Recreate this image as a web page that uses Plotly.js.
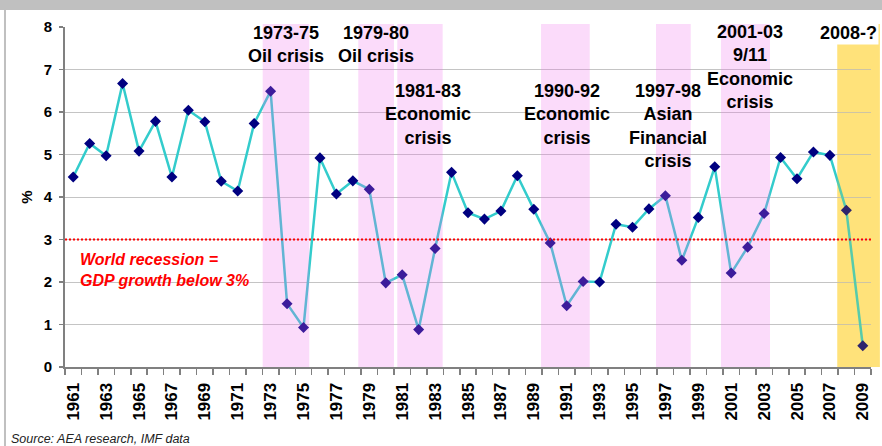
<!DOCTYPE html>
<html>
<head>
<meta charset="utf-8">
<script src="https://cdn.plot.ly/plotly-3.0.1.min.js"></script>
<style>
html,body{margin:0;padding:0;background:#fff;}
#chart{width:882px;height:446px;}
</style>
</head>
<body>
<div id="chart"></div>
<script>
// ---- data ----
var years = [1961,1962,1963,1964,1965,1966,1967,1968,1969,1970,1971,1972,1973,1974,1975,1976,1977,1978,1979,1980,
             1981,1982,1983,1984,1985,1986,1987,1988,1989,1990,1991,1992,1993,1994,1995,1996,1997,1998,1999,2000,
             2001,2002,2003,2004,2005,2006,2007,2008,2009];
var gdpGrowth = [4.47,5.26,4.97,6.67,5.08,5.78,4.47,6.04,5.77,4.37,4.14,5.73,6.49,
                 1.49,0.93,4.92,4.07,4.38,4.18,1.98,2.17,0.88,2.79,
                 4.58,3.63,3.48,3.67,4.50,3.71,2.92,1.44,2.01,2.00,
                 3.36,3.29,3.72,4.03,2.51,3.52,4.71,2.21,2.82,3.61,
                 4.93,4.43,5.06,4.98,3.69,0.50];
var tickYears = [1961,1963,1965,1967,1969,1971,1973,1975,1977,1979,1981,1983,1985,1987,1989,1991,1993,1995,1997,1999,2001,2003,2005,2007,2009];
var recessionThreshold = 3;
// crisis periods (shaded)
var crisisStart = [1972.52, 1978.33, 1980.7, 1989.44, 1996.43, 2000.38];
var crisisEnd   = [1975.35, 1980.5, 1983.46, 1992.4, 1998.54, 2003.36];
var crisisLabels = ['1973-75<br>Oil crisis','1979-80<br>Oil crisis','1981-83<br>Economic<br>crisis',
                    '1990-92<br>Economic<br>crisis','1997-98<br>Asian<br>Financial<br>crisis',
                    '2001-03<br>9/11<br>Economic<br>crisis'];
var labelX = [1973.94, 1979.38, 1982.57, 1991.0, 1997.14, 2002.16];
var labelY = [7.6, 7.6, 5.95, 5.95, 5.66, 7.06];
var currentLabel = '2008-?';
var currentStart = 2007.45;

var FONT = 'Liberation Sans, Arial, sans-serif';

var shapes = [];
// current crisis band: solid part below the series, light tint above it
shapes.push({type:'rect', layer:'below', xref:'paper', yref:'paper',
  x0:(currentStart-1960.5)/49, x1:1.011, y0:0, y1:1.009,
  line:{width:0}, fillcolor:'#ffe890'});
for (var i = 0; i < crisisStart.length; i++) {
  shapes.push({type:'rect', layer:'above', xref:'x', yref:'paper',
    x0:crisisStart[i], x1:crisisEnd[i], y0:0, y1:1.009,
    line:{width:0}, fillcolor:'rgba(240,110,235,0.25)'});
}
shapes.push({type:'rect', layer:'above', xref:'paper', yref:'paper',
  x0:(currentStart-1960.5)/49, x1:1.011, y0:0, y1:1.009,
  line:{width:0}, fillcolor:'rgba(255,200,20,0.18)'});
// recession threshold line
shapes.push({type:'line', layer:'above', xref:'paper', yref:'y',
  x0:0, x1:1, y0:recessionThreshold, y1:recessionThreshold,
  line:{color:'#ff0000', width:2.2, dash:'2px,2px'}});
// frame decorations
shapes.push({type:'rect', layer:'above', xref:'paper', yref:'paper',
  x0:-0.1, x1:1.02, y0:1.05, y1:1.1, line:{width:0}, fillcolor:'#c0c0c0'});
shapes.push({type:'rect', layer:'above', xref:'paper', yref:'paper',
  x0:-0.0757, x1:-0.0732, y0:-0.3, y1:1.05, line:{width:0}, fillcolor:'#c0c0c0'});

var annotations = [];
for (var j = 0; j < crisisLabels.length; j++) {
  annotations.push({x:labelX[j], y:labelY[j], xref:'x', yref:'y', text:'<b>'+crisisLabels[j]+'</b>',
    showarrow:false, align:'center', xanchor:'center', yanchor:'middle',
    font:{family:FONT, size:18, color:'#000'}});
}
annotations.push({x:2008.14, y:7.86, xref:'x', yref:'y', text:'<b>'+currentLabel+'</b>',
  showarrow:false, xanchor:'center', yanchor:'middle', bgcolor:'#ffffff',
  font:{family:FONT, size:18, color:'#000'}});
annotations.push({x:1961.3, y:2.29, xref:'x', yref:'y',
  text:'<b><i>World recession =<br>GDP growth below 3%</i></b>',
  showarrow:false, align:'left', xanchor:'left', yanchor:'middle',
  font:{family:FONT, size:16, color:'#ff0000'}});
annotations.push({x:-0.069, y:-0.212, xref:'paper', yref:'paper',
  text:'<i>Source: AEA research, IMF data</i>', showarrow:false, xanchor:'left', yanchor:'middle',
  font:{family:FONT, size:12.5, color:'#222'}});

var trace = {
  x: years, y: gdpGrowth, type:'scatter', mode:'lines+markers',
  line:{color:'#33cccc', width:2.5},
  marker:{symbol:'diamond', size:8.5, color:'#000080', line:{width:0}},
  hoverinfo:'x+y'
};

var layout = {
  width:882, height:446,
  margin:{l:65, r:11, t:27, b:79},
  paper_bgcolor:'#ffffff', plot_bgcolor:'rgba(0,0,0,0)',
  showlegend:false,
  font:{family:FONT, color:'#000'},
  xaxis:{
    range:[1960.5, 2009.5], tickvals:tickYears, ticktext:tickYears.map(function(v){return '<b>'+v+'</b>';}),
    tickangle:-90, tickfont:{family:FONT, size:17, color:'#000'},
    ticks:'', ticklabelstandoff:7,
    minor:{tick0:1960.5, dtick:1, ticks:'outside', ticklen:6, tickcolor:'#808080', tickwidth:1.5, showgrid:false},
    showline:true, linecolor:'#808080', linewidth:2, showgrid:false, zeroline:false, fixedrange:true
  },
  yaxis:{
    range:[0,8], tickvals:[0,1,2,3,4,5,6,7,8], ticktext:['<b>0</b>','<b>1</b>','<b>2</b>','<b>3</b>','<b>4</b>','<b>5</b>','<b>6</b>','<b>7</b>','<b>8</b>'],
    tickfont:{family:FONT, size:15, color:'#000'},
    ticks:'outside', ticklen:4, tickcolor:'#808080', tickwidth:1.5, ticklabelstandoff:4,
    showline:true, linecolor:'#808080', linewidth:2,
    showgrid:true, gridcolor:'#c4c4c4', gridwidth:1, zeroline:false, fixedrange:true,
    title:{text:'<b>%</b>', font:{family:FONT, size:15, color:'#000'}, standoff:7}
  },
  shapes:shapes,
  annotations:annotations
};

Plotly.newPlot('chart', [trace], layout, {displayModeBar:false, staticPlot:true});
</script>
</body>
</html>
